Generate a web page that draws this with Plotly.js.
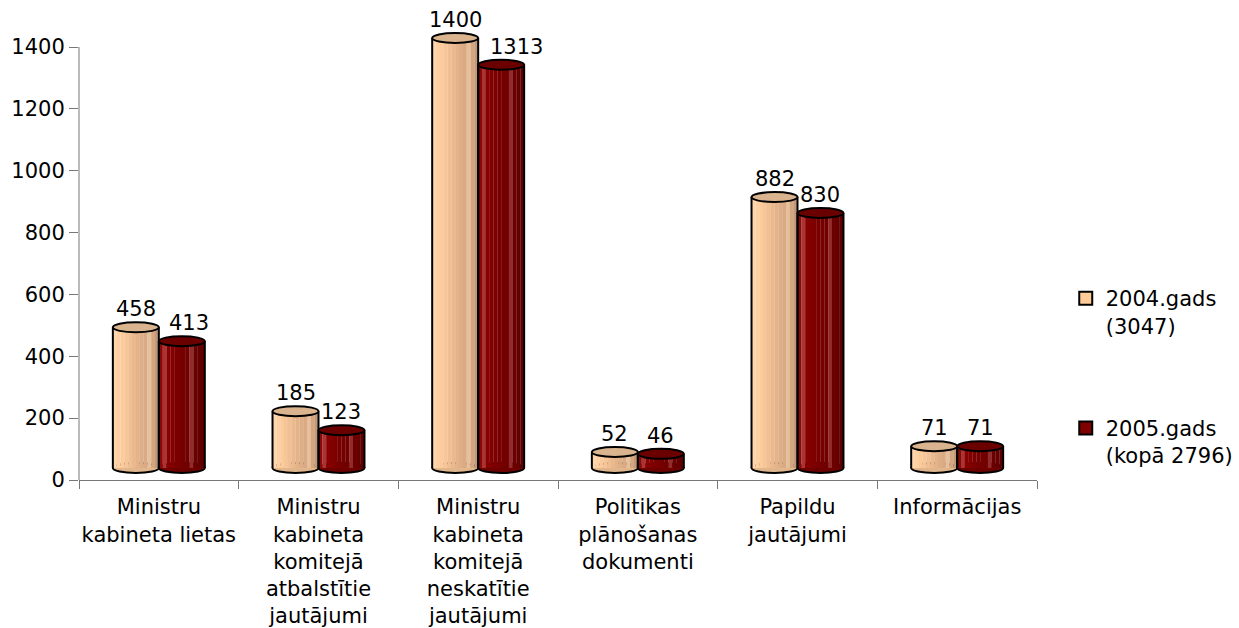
<!DOCTYPE html>
<html>
<head>
<meta charset="utf-8">
<script src="https://cdn.plot.ly/plotly-3.0.1.min.js"></script>
<style>
  html, body { margin: 0; padding: 0; background: #ffffff; }
  #chart { width: 1239px; height: 628px; }
</style>
</head>
<body>
<div id="chart"></div>
<script>
// ---------- data ----------
var categories = [
  "Ministru<br>kabineta lietas",
  "Ministru<br>kabineta<br>komitejā<br>atbalstītie<br>jautājumi",
  "Ministru<br>kabineta<br>komitejā<br>neskatītie<br>jautājumi",
  "Politikas<br>plānošanas<br>dokumenti",
  "Papildu<br>jautājumi",
  "Informācijas"
];
var values2004 = [458, 185, 1400, 52, 882, 71];
var values2005 = [413, 123, 1313, 46, 830, 71];
var seriesNames = ["2004.gads<br>(3047)", "2005.gads<br>(kopā 2796)"];
var yTickVals = [0, 200, 400, 600, 800, 1000, 1200, 1400];

// ---------- styles ----------
var FONT = "DejaVu Sans, Verdana, sans-serif";
var FS = 21;
var cylW = 0.288;              // cylinder width in category units
var nStrips = 12;
var stripColors = [
  ['#FFD6AB','#FFD1A2','#FCCB9C','#F6C598','#F0BF93','#EAB98E','#E4B38A','#DEAE86','#D9AA83','#E6C09C','#D4A67F','#C2987A'],
  ['#8C0808','#A83434','#880000','#820000','#7D0000','#790000','#750000','#710000','#922C2C','#6B0000','#660000','#5C0000']
];
var baseColors = ['#FFCC99', '#800000'];
var topColors = ['#D9B48F', '#6A0000'];
var bottomColors = ['#E2B68C', '#6E0000'];
var labelXShift = [[0,0,0,0,0,0],[7,0,15,0,0,0]];
var ellH = 5;     // half height of ellipses (px)
var outline = {color: '#000000', width: 2};

var allSeries = [values2004, values2005];
var seriesOffset = [-cylW, 0];

var traces = [];
var shapes = [];
var annotations = [];

// cylinder bodies as gradient strips (bars through library scales)
allSeries.forEach(function (vals, s) {
  for (var k = 0; k < nStrips; k++) {
    traces.push({
      type: 'bar',
      x: categories,
      y: vals,
      yaxis: 'y2',
      width: cylW / nStrips * 1.05,
      offset: seriesOffset[s] + k * cylW / nStrips,
      marker: {color: stripColors[s][k], line: {width: 0}},
      showlegend: false,
      hoverinfo: 'skip',
      cliponaxis: false
    });
  }
});

// legend entries
seriesNames.forEach(function (nm, s) {
  traces.push({
    type: 'scatter',
    mode: 'markers',
    x: [null],
    y: [null],
    name: nm,
    legendgroup: 'g' + s,
    marker: {symbol: 'square', size: 13, color: baseColors[s], line: {color: '#000', width: 2}}
  });
});

// cylinder decorations (ellipses and side lines) derived from data
allSeries.forEach(function (vals, s) {
  vals.forEach(function (v, i) {
    var xl = i + seriesOffset[s];
    var xr = xl + cylW;
    shapes.push({
      type: 'circle', xref: 'x', yref: 'y2', layer: 'below',
      ysizemode: 'pixel', yanchor: 0, y0: -ellH, y1: ellH,
      x0: xl, x1: xr, fillcolor: bottomColors[s], line: outline
    });
  });
});
allSeries.forEach(function (vals, s) {
  vals.forEach(function (v, i) {
    var xl = i + seriesOffset[s];
    var xr = xl + cylW;
    shapes.push({type: 'line', xref: 'x', yref: 'y2', layer: 'above',
      x0: xl, x1: xl, y0: 0, y1: v, line: outline});
    shapes.push({type: 'line', xref: 'x', yref: 'y2', layer: 'above',
      x0: xr, x1: xr, y0: 0, y1: v, line: outline});
    shapes.push({
      type: 'circle', xref: 'x', yref: 'y2', layer: 'above',
      ysizemode: 'pixel', yanchor: v, y0: -ellH, y1: ellH,
      x0: xl, x1: xr, fillcolor: topColors[s], line: outline
    });
    annotations.push({
      x: xl + cylW / 2, y: v, xref: 'x', yref: 'y2',
      text: String(v), showarrow: false,
      yanchor: 'middle', xanchor: 'center',
      yshift: 18, xshift: labelXShift[s][i],
      font: {family: FONT, size: FS, color: '#000'}
    });
  });
});

// y axis line from 0 to 1400
shapes.push({type: 'line', xref: 'paper', yref: 'y', x0: 0, x1: 0,
  y0: yTickVals[0], y1: yTickVals[yTickVals.length - 1],
  line: {color: '#777777', width: 1}, layer: 'above'});

var layout = {
  width: 1239, height: 628,
  margin: {l: 79, r: 202, t: 5, b: 148, autoexpand: false},
  paper_bgcolor: '#ffffff', plot_bgcolor: '#ffffff',
  font: {family: FONT, size: FS, color: '#000'},
  barmode: 'overlay',
  showlegend: true,
  xaxis: {
    type: 'category',
    range: [-0.5, 5.5],
    showline: true, linecolor: '#777777', linewidth: 1,
    ticks: 'outside', tickson: 'boundaries', ticklen: 8, tickcolor: '#777777',
    ticklabelstandoff: 8,
    tickangle: 0,
    automargin: false,
    showgrid: false, zeroline: false,
    tickfont: {family: FONT, size: FS, color: '#000'},
    fixedrange: true
  },
  yaxis: {
    range: [0, 1535.8],
    tickvals: yTickVals,
    ticks: 'outside', ticklen: 9, tickcolor: '#777777',
    showline: false, showgrid: false, zeroline: false,
    automargin: false,
    tickfont: {family: FONT, size: FS, color: '#000'},
    fixedrange: true
  },
  yaxis2: {
    overlaying: 'y',
    range: [-39.07, 1507.4],
    visible: false,
    fixedrange: true
  },
  legend: {
    x: 1.03, xanchor: 'left',
    y: 0.425, yanchor: 'top',
    valign: 'top',
    tracegroupgap: 72,
    font: {family: FONT, size: FS, color: '#000'},
    bgcolor: 'rgba(0,0,0,0)'
  },
  shapes: shapes,
  annotations: annotations
};

Plotly.newPlot('chart', traces, layout, {displayModeBar: false, staticPlot: true});
</script>
</body>
</html>
